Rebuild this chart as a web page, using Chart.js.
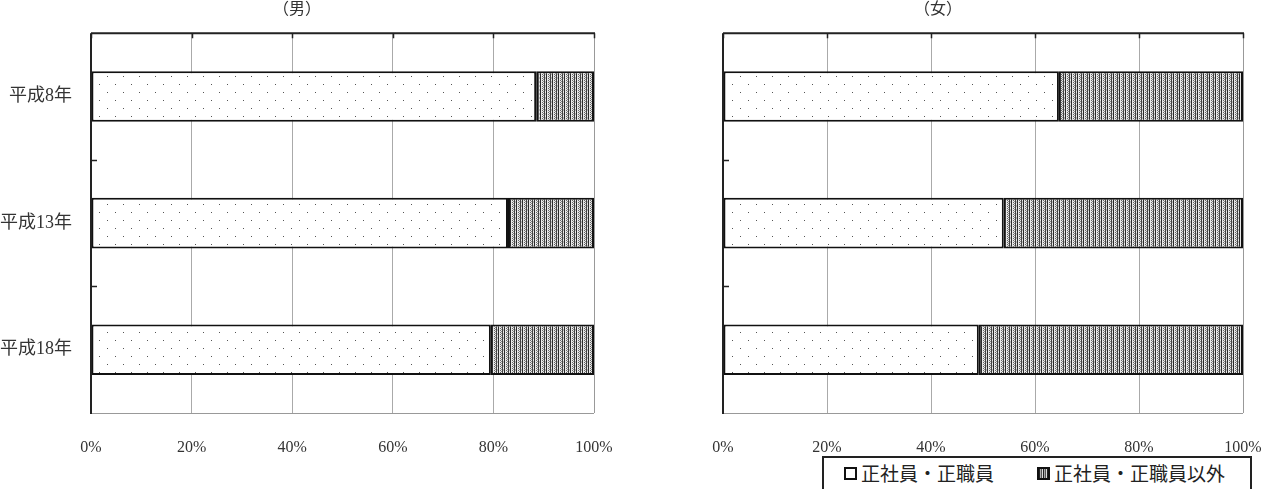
<!DOCTYPE html>
<html>
<head>
<meta charset="utf-8">
<script src="https://cdn.jsdelivr.net/npm/chart.js@4/dist/chart.umd.min.js"></script>
<style>
  body { margin: 0; background: #fff; width: 1267px; height: 489px; overflow: hidden; position: relative; }
  #maleBox { position: absolute; left: 0; top: 0; width: 633px; height: 489px; }
  #femaleBox { position: absolute; left: 633px; top: 0; width: 634px; height: 489px; }
  #legend {
    position: absolute; left: 822px; top: 456px; width: 426px; height: 44px;
    border: 2px solid #222; background: #fff;
    font-family: 'Liberation Serif', 'Noto Sans CJK JP', serif; font-size: 19px; color: #222;
  }
  #legend .item { position: absolute; top: 1px; white-space: nowrap; }
  #legend .sw { display: inline-block; width: 9px; height: 9px; border: 2px solid #111; margin-right: 4px; vertical-align: 1px; }
  #legend .sw.dense { background: repeating-linear-gradient(90deg, #222 0 1px, #aaa 1px 2px, #555 2px 3px, #ddd 3px 4px); }
</style>
</head>
<body>
<div id="maleBox"><canvas id="maleChart"></canvas></div>
<div id="femaleBox"><canvas id="femaleChart"></canvas></div>
<div id="legend">
  <span class="item" style="left:20px"><span class="sw"></span>正社員・正職員</span>
  <span class="item" style="left:213px"><span class="sw dense"></span>正社員・正職員以外</span>
</div>
<script>
const categories = ['平成8年', '平成13年', '平成18年'];
const seriesNames = ['正社員・正職員', '正社員・正職員以外'];
const maleRegular = [88.5, 82.9, 79.5];
const maleNonRegular = [11.5, 17.1, 20.5];
const femaleRegular = [64.6, 54.0, 49.2];
const femaleNonRegular = [35.4, 46.0, 50.8];
const xTickStep = 20;

const fontFamily = "'Liberation Serif', 'Noto Sans CJK JP', serif";

// sparse staggered dots
function dotPattern() {
    const c = document.createElement('canvas');
    c.width = 16; c.height = 16;
    const g = c.getContext('2d');
    g.fillStyle = '#fff';
    g.fillRect(0, 0, 16, 16);
    g.fillStyle = '#555';
    g.fillRect(3, 4, 1, 1);
    g.fillRect(11, 12, 1, 1);
    return g.createPattern(c, 'repeat');
}

// dense mottled vertical-stripe texture
function densePattern() {
    const c = document.createElement('canvas');
    c.width = 6; c.height = 4;
    const g = c.getContext('2d');
    g.fillStyle = '#e8e8e8';
    g.fillRect(0, 0, 6, 4);
    g.fillStyle = '#2a2a2a';
    g.fillRect(0, 0, 1, 4);
    g.fillStyle = '#666';
    g.fillRect(2, 0, 1, 1);
    g.fillRect(2, 2, 1, 1);
    g.fillStyle = '#888';
    g.fillRect(3, 1, 1, 1);
    g.fillRect(3, 3, 1, 1);
    g.fillStyle = '#444';
    g.fillRect(4, 0, 1, 4);
    g.fillStyle = '#bbb';
    g.fillRect(5, 1, 1, 2);
    return g.createPattern(c, 'repeat');
}

const frame = {
    id: 'frame',
    afterDatasetsDraw(chart) {
        const { ctx, chartArea: a, scales } = chart;
        ctx.save();
        ctx.strokeStyle = '#999';
        ctx.lineWidth = 1;
        ctx.beginPath();
        ctx.moveTo(a.left, a.bottom + 0.5);
        ctx.lineTo(a.right, a.bottom + 0.5);
        ctx.moveTo(a.right + 0.5, a.top);
        ctx.lineTo(a.right + 0.5, a.bottom);
        ctx.stroke();

        ctx.strokeStyle = '#222';
        ctx.lineWidth = 2;
        ctx.beginPath();
        ctx.moveTo(a.left, a.top);
        ctx.lineTo(a.right + 1, a.top);
        ctx.moveTo(a.left, a.top);
        ctx.lineTo(a.left, a.bottom + 1);
        ctx.stroke();

        // small tick marks along top and left edges
        ctx.lineWidth = 1.5;
        ctx.beginPath();
        scales.x.ticks.forEach((t, i) => {
            const x = Math.round(scales.x.getPixelForTick(i)) + 0.5;
            ctx.moveTo(x, a.top);
            ctx.lineTo(x, a.top + 5);
        });
        for (let i = 1; i < categories.length; i++) {
            const y = Math.round((scales.y.getPixelForTick(i - 1) + scales.y.getPixelForTick(i)) / 2) + 0.5;
            ctx.moveTo(a.left, y);
            ctx.lineTo(a.left + 6, y);
        }
        ctx.stroke();
        ctx.restore();
    }
};

function makeChart(id, title, regular, nonRegular, axisWidth, rightPad, showLabels) {
    const ctx = document.getElementById(id).getContext('2d');
    return new Chart(ctx, {
        type: 'bar',
        data: {
            labels: categories,
            datasets: [
                { label: seriesNames[0], data: regular, backgroundColor: dotPattern(), borderColor: '#111', borderWidth: 2, borderSkipped: false },
                { label: seriesNames[1], data: nonRegular, backgroundColor: densePattern(), borderColor: '#111', borderWidth: 2, borderSkipped: false }
            ]
        },
        options: {
            indexAxis: 'y',
            responsive: true,
            maintainAspectRatio: false,
            animation: false,
            categoryPercentage: 1,
            barPercentage: 0.4,
            layout: { padding: { left: 0, right: rightPad, top: 0, bottom: 0 } },
            plugins: {
                legend: { display: false },
                tooltip: { enabled: false },
                title: {
                    display: true,
                    text: title,
                    color: '#333',
                    font: { family: fontFamily, size: 16, weight: 'normal' },
                    padding: { top: 0, bottom: 14 }
                }
            },
            scales: {
                x: {
                    stacked: true,
                    min: 0,
                    max: 100,
                    ticks: {
                        stepSize: xTickStep,
                        padding: 0,
                        color: '#333',
                        font: { family: fontFamily, size: 16 },
                        callback: v => v + '%'
                    },
                    grid: { color: '#aaa', lineWidth: 1, drawTicks: true, tickLength: 25, tickColor: 'rgba(0,0,0,0)' },
                    border: { display: false },
                    afterFit: s => { s.height = 76; }
                },
                y: {
                    stacked: true,
                    ticks: {
                        display: showLabels,
                        padding: 19,
                        color: '#333',
                        font: { family: fontFamily, size: 18 }
                    },
                    grid: { display: false, drawTicks: false },
                    border: { display: false },
                    afterFit: s => { s.width = axisWidth; }
                }
            }
        },
        plugins: [frame]
    });
}

makeChart('maleChart', '（男）', maleRegular, maleNonRegular, 91, 39, true);
makeChart('femaleChart', '（女）', femaleRegular, femaleNonRegular, 90, 24, false);
</script>
</body>
</html>
